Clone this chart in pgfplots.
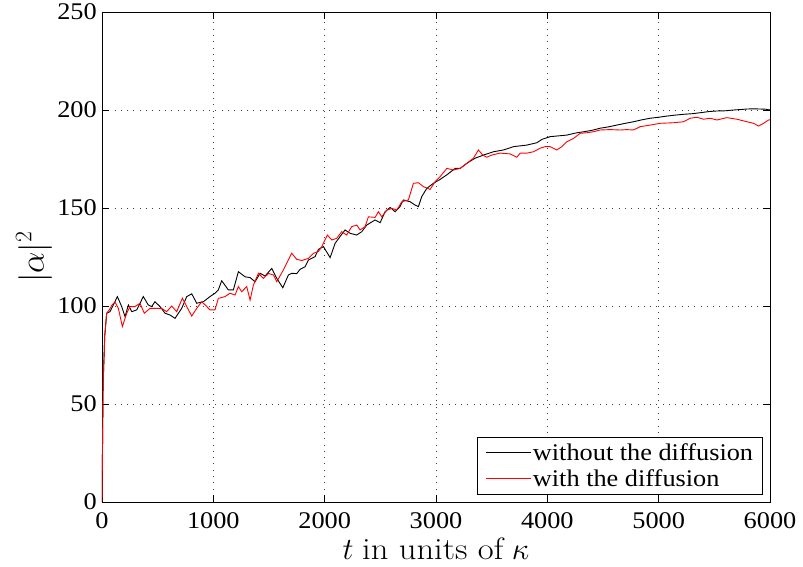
\RequirePackage{fix-cm}
\documentclass[border=0pt]{standalone}
\usepackage[no-math]{fontspec}
\setmainfont{Liberation Serif}[FakeStretch=1.1]
\newfontfamily\lmr{Latin Modern Roman}[FakeStretch=1.12]
\usepackage{pgfplots}
\pgfplotsset{compat=1.18}
\usetikzlibrary{calc}
\begin{document}
\begin{tikzpicture}
\begin{axis}[
  scale only axis, width=668bp, height=490bp,
  xmin=0, xmax=6000, ymin=0, ymax=250,
  xtick={0,1000,...,6000}, ytick={0,50,...,250},
  /pgf/number format/assume math mode=true,
  /pgf/number format/set thousands separator={},
  scaled x ticks=false,
  tick align=inside, tick pos=both,
  major tick length=7bp,
  grid=major,
  major grid style={black!75, line width=0.6bp, dash pattern=on 0.8bp off 5.5bp},
  axis line style={line width=0.9bp},
  every tick/.style={black, line width=0.7bp},
  tick label style={font=\fontsize{24}{28}\selectfont},
  xticklabel style={inner sep=0pt, yshift=-10bp},
  yticklabel style={inner sep=0pt, xshift=-5bp},
  xlabel={$t$ {\lmr in units of} $\kappa$},
  ylabel={$|\alpha|^2$},
  xlabel style={font=\fontsize{31}{36}\selectfont, inner sep=0pt, at={(axis description cs:0.5,-0.117)}, anchor=base},
  ylabel style={font=\fontsize{34}{40}\selectfont, at={(axis description cs:-0.1018,0.5)}, anchor=center},
  legend style={at={(axis description cs:0.9895,0.0143)}, anchor=south east, draw=black, line width=0.8bp, font=\fontsize{24}{28}\selectfont, inner xsep=8bp, inner ysep=5bp, row sep=5bp, nodes={inner sep=1.5bp}, cells={anchor=west}},
  legend image code/.code={\draw[#1, line width=0.9bp] (0bp,0bp) -- (45bp,0bp);},
  legend cell align=left,
]
\addplot[black, line width=0.9bp] table[x=t, y=a] {
t a
0 0
10 60
25 85
42 96.3
72 97.1
102 100.5
138 104.8
177 99.7
207 94.6
237 100.5
267 97.1
312 98
371 104.8
416 100.5
446 99.7
476 102.2
521 99.7
566 96.3
611 95.4
656 93.7
716 98.8
761 104.8
806 106.2
851 101.4
911 102.2
970 104.8
1015 106.5
1045 108.2
1075 112.9
1135 108.2
1180 108.2
1225 117.5
1285 114.9
1330 114.5
1375 112.4
1420 116.7
1465 115.3
1525 119.2
1570 114.1
1624 109.3
1674 115.8
1704 116.7
1749 116.5
1779 118.7
1824 120
1854 123.5
1914 125.2
1944 128.9
1989 130.3
2049 124.7
2094 132
2138 135.4
2183 138.8
2228 137.1
2288 136.2
2333 137.9
2378 141.3
2453 143.9
2498 142.5
2543 148.1
2588 150.3
2633 148.1
2677 150.7
2707 154.1
2767 153.2
2812 151.5
2842 150.7
2872 155.8
2917 160
2977 162.6
3037 164.6
3097 166.9
3172 170.2
3217 170.2
3277 172.8
3351 175.4
3426 177
3516 178.7
3606 179.6
3696 181.3
3816 182.1
3906 183.3
3951 185
4025 186.4
4100 186.8
4175 187.2
4250 188.2
4325 188.9
4400 189.6
4474 190.7
4550 191.4
4624 192.3
4700 193.2
4774 194
4850 195
4924 195.8
5000 196.3
5074 196.9
5150 197.4
5223 197.8
5300 198.1
5373 198.6
5450 199.2
5523 199.5
5600 199.6
5673 200
5750 200.3
5793 200.5
5850 200.6
5912 200.5
5960 200.4
6000 200
};
\addlegendentry{without the diffusion}
\addplot[red, line width=0.9bp] table[x=t, y=a] {
t a
0 0
10 60
25 85
42 96.3
65 98
90 100.5
117 102
147 98.8
183 89.5
222 96.3
252 99.7
297 99.7
341 101.4
380 96.3
431 98.8
536 98.8
581 97.1
626 100
671 97.1
722 104
761 99.7
806 94.9
851 98.8
896 102.2
941 99.7
970 98
1015 98
1045 103.9
1105 104.8
1150 106.5
1195 105.6
1225 109.9
1255 107.3
1300 109.9
1330 103
1360 110.7
1405 116.7
1450 114.1
1495 116.6
1540 115.8
1570 112.4
1629 118.4
1674 123.5
1704 126.9
1749 123.8
1794 123.2
1854 124.3
1899 126.9
1944 127.8
1974 130.3
2024 136.2
2064 133.7
2108 134.5
2153 137.9
2198 136.2
2243 140.5
2288 141.3
2318 138.8
2363 140.5
2393 145.5
2453 145.2
2483 148.1
2513 145.5
2558 148.9
2603 149.8
2648 149
2693 153.2
2752 154.1
2797 162.6
2842 162.9
2887 160.9
2947 159.5
2992 163.4
3037 166
3097 170.2
3157 169.4
3217 170.2
3277 172.8
3336 175.4
3381 179.6
3420 177
3456 175.9
3500 177
3576 178
3666 177.6
3726 175.9
3756 178
3816 178
3876 178.7
3935 180.5
3980 181.3
4025 181.3
4085 179.6
4130 181.3
4175 183.8
4235 185.5
4295 188.1
4355 188.4
4415 188.9
4474 189.8
4564 190
4654 189.8
4714 190
4774 189.8
4834 191.5
4924 192.3
5013 193.2
5133 193.5
5223 194
5283 195.8
5343 196.3
5403 195.3
5463 195.8
5523 194.9
5612 196.1
5702 195.3
5793 194
5853 193.2
5897 191.8
5942 193.2
5987 194.9
6000 195
};
\addlegendentry{with the diffusion}
\end{axis}
\pgfresetboundingbox
\path ($(current axis.south west)+(-102bp,-65bp)$) rectangle ($(current axis.north east)+(33bp,12bp)$);
\end{tikzpicture}
\end{document}
